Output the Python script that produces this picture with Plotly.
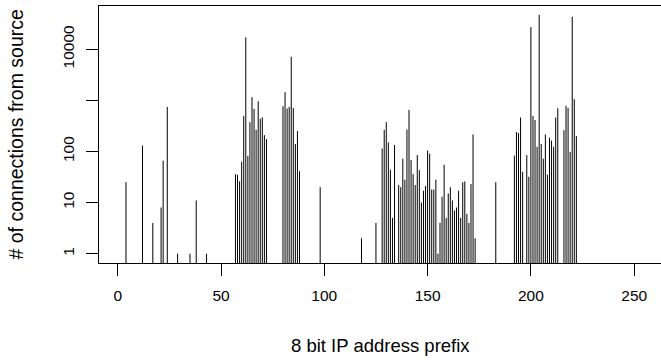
import plotly.graph_objects as go

# 8-bit IP prefixes with at least one connection, and the count per prefix
prefix_early = [4, 12, 17, 21, 22, 24, 29, 35, 38, 43]
count_early = [25, 130, 4, 8, 66, 740, 1, 1, 11, 1]

prefix_c1 = list(range(57, 73))
count_c1 = [36, 35, 26, 63, 490, 17000, 81, 372, 1150, 680, 265, 960, 435, 465, 208, 174]

prefix_c2 = list(range(80, 89))
count_c2 = [767, 1450, 690, 745, 7100, 705, 140, 250, 41]

prefix_mid = [98, 118, 125]
count_mid = [20, 2, 4]

prefix_c3 = list(range(128, 135)) + list(range(136, 174))
count_c3 = [114, 265, 375, 150, 44, 5, 134,
            22, 20, 72, 28, 268, 650, 68, 36, 22, 85, 43, 10,
            17, 21, 104, 90, 18, 18, 28, 1, 4, 13, 55, 5,
            15, 20, 11, 7, 8, 17, 5, 25, 26, 6, 4, 23, 215, 2]

prefix_c4 = [183] + list(range(192, 197)) + list(range(198, 214)) + list(range(216, 223))
count_c4 = [25,
            83, 240, 228, 460, 40,
            85, 32, 27000, 495, 410, 123, 47000, 140, 72, 215, 35, 185, 163, 123, 460, 700,
            260, 780, 710, 98, 43000, 1050, 200]

x_ticks = [0, 50, 100, 150, 200, 250]
y_ticks = [1, 10, 100, 1000, 10000]
y_tick_text = ["1", "10", "100", "", "10000"]

prefixes = prefix_early + prefix_c1 + prefix_c2 + prefix_mid + prefix_c3 + prefix_c4
counts = count_early + count_c1 + count_c2 + count_mid + count_c3 + count_c4

BASE = 0.1  # below the visible log range so each spike starts at the frame
xs, ys = [], []
for p, c in zip(prefixes, counts):
    xs += [p, p, None]
    ys += [BASE, c, None]

fig = go.Figure()
fig.add_trace(go.Scatter(x=xs, y=ys, mode="lines",
                         line=dict(color="black", width=1),
                         hoverinfo="skip", showlegend=False))

FONT = "Liberation Sans, Arial, Helvetica, sans-serif"
fig.update_layout(
    width=661, height=360,
    margin=dict(l=99, r=0, t=6, b=97),
    paper_bgcolor="white", plot_bgcolor="white",
    font=dict(family=FONT, size=15.5, color="black"),
    xaxis=dict(range=[-9.05, 262.97], tickvals=x_ticks, ticks="outside",
               ticklen=12, tickwidth=1, tickcolor="black",
               showline=True, linecolor="black", linewidth=1, mirror=True,
               showgrid=False, zeroline=False, ticklabelstandoff=6),
    yaxis=dict(type="log", range=[-0.182, 4.844], tickvals=y_ticks,
               ticktext=y_tick_text, ticks="outside", ticklen=12,
               tickwidth=1, tickcolor="black", tickangle=-90,
               showline=True, linecolor="black", linewidth=1, mirror=False,
               showgrid=False, zeroline=False, ticklabelstandoff=6),
    annotations=[
        dict(text="8 bit IP address prefix", xref="paper", yref="paper",
             x=0.5, y=0, xanchor="center", yanchor="middle", yshift=-82,
             showarrow=False, font=dict(size=18.5)),
        dict(text="# of connections from source", xref="paper", yref="paper",
             x=0, y=0.5, xanchor="center", yanchor="middle", xshift=-84,
             textangle=-90, showarrow=False, font=dict(size=19.5)),
    ],
)

fig.write_html("out.html",
               config={"displayModeBar": False},
               post_script="document.body.style.margin='0';document.body.style.overflow='hidden';")
